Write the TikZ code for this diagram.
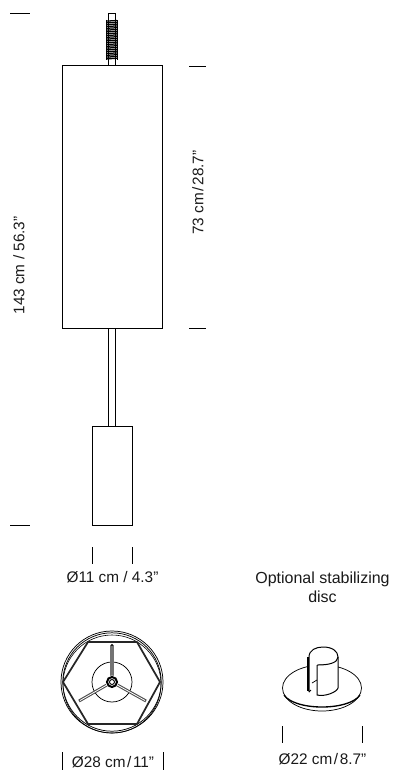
\documentclass[tikz,border=0pt]{standalone}
\usepackage{fontspec}
\setmainfont{Liberation Sans}
\tikzset{
  px/.style={x=0.75pt,y=-0.75pt},
  ln/.style={line width=0.75pt,black},
  thin ln/.style={line width=0.55pt,black},
  tick/.style={line width=0.6pt,black},
  lbl/.style={font=\fontsize{11.5pt}{14pt}\selectfont,inner sep=0pt,text=black!90},
}
\newcommand{\tsl}{\kern1.2pt/\kern1.2pt}
\begin{document}
\begin{tikzpicture}[px]
\useasboundingbox (0,0) rectangle (396,774);
% dimension ticks
\draw[tick] (10,13) -- (30,13);
\draw[tick] (10,525) -- (30,525);
\draw[tick] (189,66) -- (206,66);
\draw[tick] (189,328) -- (206,328);
\draw[tick] (92,547) -- (92,564);
\draw[tick] (132,547) -- (132,564);
\draw[tick] (282.500,726) -- (282.500,743);
\draw[tick] (362,726) -- (362,743);
\draw[tick] (62,752) -- (62,770);
\draw[tick] (163,752) -- (163,770);
% lamp: cord
\draw[thin ln] (108.500,66) -- (108.500,13) -- (115.500,13) -- (115.500,66);
\foreach \y in {20.500,22.300,...,60}{
  \draw[line width=0.95pt] (106.800,\y+0.6) -- (117,\y);
}
\draw[thin ln] (106.800,20) -- (106.800,60) (117,20) -- (117,60);
% shade, stem, base
\draw[ln] (62,66) rectangle (162,328);
\draw[thin ln] (108.500,328) -- (108.500,426) (115,328) -- (115,426);
\draw[ln] (92,426) rectangle (132,525);
% top view
\draw[thin ln] (112,682) circle (51);
\draw[thin ln] (112,682) circle (49.200);
\draw[line width=0.45pt] (112,684) circle (49);
\draw[line width=1.3pt,black!85,line join=round] (88,642) -- (137,642) -- (160,682) -- (137,724) -- (88,724) -- (63,682) -- cycle;
\draw[thin ln] (112,682) circle (20);
\draw[line width=2.6pt,black!55] (112,682) -- (112,645);
\draw[line width=2.200pt,black!70] (112,682) -- (79,701);
\draw[line width=2.200pt,black!70] (112,682) -- (146,701);
\draw[line width=0.6pt,white] (112,682) -- (80,700.500) (112,682) -- (145,700.500);
\fill[white] (112,682) circle (6.500);
\draw[line width=1.5pt] (112,682) circle (5);
\draw[line width=0.7pt] (112,682) circle (2.500);
\fill[black] (112,645) circle (1.200);
% disc
\draw[thin ln] (322,688) ellipse (39.500 and 23);
\draw[line width=1pt] (284,695) .. controls (295,711) and (349,711) .. (360,695);
% sleeve
\fill[white] (308,656) arc[start angle=180,end angle=-5,x radius=15,y radius=9] -- (338,688) .. controls (336,693) and (325,697) .. (317,695) -- (317,685) -- (308,692) -- cycle;
\draw[ln] (309,692) -- (309,657) .. controls (309,650) and (316,647) .. (323,647) .. controls (332,647) and (338,651) .. (338,657) .. controls (338,663) and (328,665) .. (318,665) -- (317,665);
\draw[ln] (317,665) -- (317,695) .. controls (325,697) and (337,692) .. (338,688) -- (338,657);
\draw[line width=1.4pt] (308,657) -- (308,691);
\draw[thin ln] (309,692) -- (311,690);
\draw[thin ln] (312,683) -- (317,680);
% text
\node[lbl,rotate=90] (height) at (19,265.500) {143 cm / 56.3”};
\node[lbl,rotate=90] (shade) at (198,192.500) {73 cm\tsl 28.7”};
\node[lbl] (base) at (112.500,577) {Ø11 cm / 4.3”};
\node[lbl,align=center,font=\fontsize{12pt}{14.300pt}\selectfont] (opt) at (322.500,587.500) {Optional stabilizing\\disc};
\node[lbl] (top) at (113,762) {Ø28 cm\tsl 11”};
\node[lbl] (disc) at (322.500,759) {Ø22 cm\tsl 8.7”};
\end{tikzpicture}
\end{document}
